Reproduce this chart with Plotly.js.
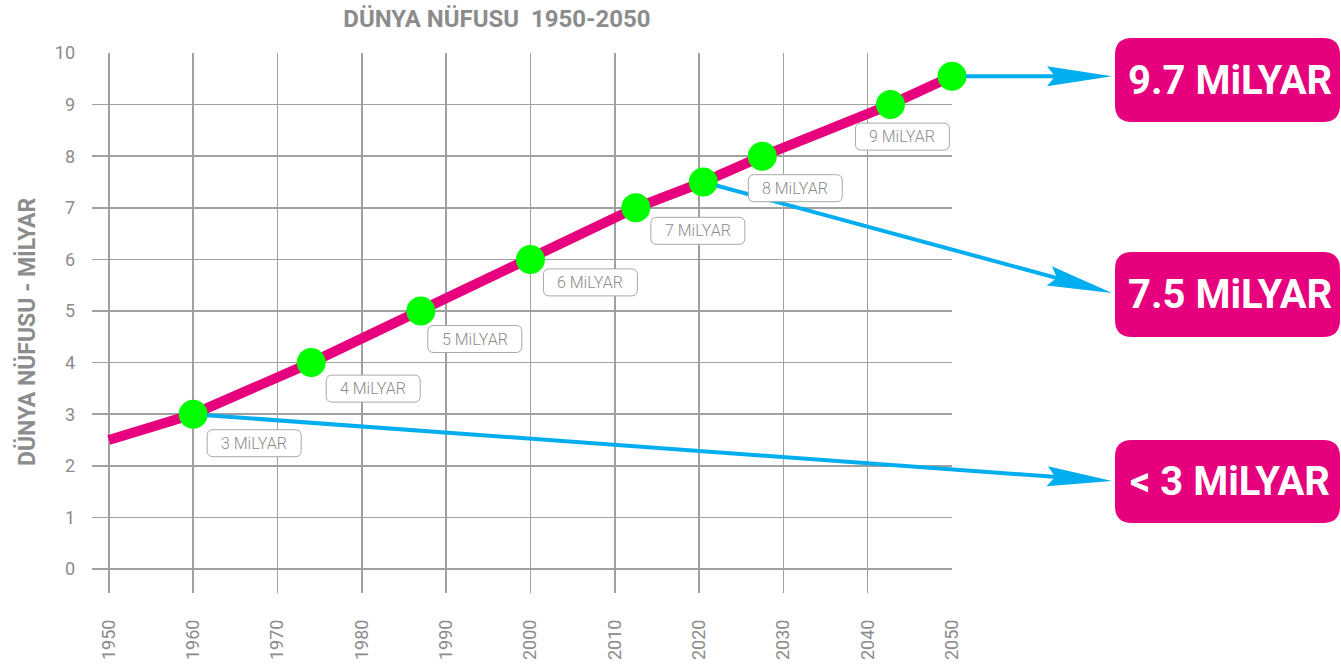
<!DOCTYPE html>
<html>
<head>
<meta charset="utf-8">
<script src="https://cdn.plot.ly/plotly-3.0.1.min.js"></script>
<style>
html,body{margin:0;padding:0;background:#fff;}
#chart{width:1341px;height:668px;}
</style>
</head>
<body>
<div id="chart"></div>
<script>
// ---- data ----
const years = [1950, 1960, 1974, 1987, 2000, 2012.5, 2020.5, 2027.5, 2042.7, 2050];
const population = [2.5, 3.0, 4.0, 5.0, 6.0, 7.0, 7.5, 8.0, 9.0, 9.55];

const milestoneYears = [1960, 1974, 1987, 2000, 2012.5, 2020.5, 2027.5, 2042.7, 2050];
const milestoneValues = [3.0, 4.0, 5.0, 6.0, 7.0, 7.5, 8.0, 9.0, 9.55];

const labelYears = [1960, 1974, 1987, 2000, 2012.5, 2027.5, 2042.7];
const labelValues = [3, 4, 5, 6, 7, 8, 9];
const labelTexts = ['3 MiLYAR', '4 MiLYAR', '5 MiLYAR', '6 MiLYAR', '7 MiLYAR', '8 MiLYAR', '9 MiLYAR'];

const calloutTexts = ['9.7 MiLYAR', '7.5 MiLYAR', '< 3 MiLYAR'];
const calloutFromYears = [2050, 2020.5, 1960];
const calloutFromValues = [9.55, 7.5, 3.0];

const xTickVals = [1950, 1960, 1970, 1980, 1990, 2000, 2010, 2020, 2030, 2040, 2050];
const yTickVals = [0, 1, 2, 3, 4, 5, 6, 7, 8, 9, 10];

// ---- layout constants (pixels) ----
const FIG_W = 1341, FIG_H = 668;
const M = {l: 92, r: 389, t: 53, b: 75};
const PW = FIG_W - M.l - M.r, PH = FIG_H - M.t - M.b;
const XR = [1948, 2050], YR = [-0.465, 10];
const labelOffsets = [[61, 29], [62, 26], [54, 28], [60, 23], [62, 23], [33, 32], [12, 32]];
const LABEL_W = 94, LABEL_H = 27;
const calloutBoxes = [[1115, 38, 1340, 122], [1115, 252, 1340, 337], [1115, 440, 1340, 523]];
const arrowTipX = 1112;
const arrowTipY = [null, 293, 481];
const MARKER_SIZE = 29;

const PINK = '#E6007E', BLUE = '#00AEEF', GREEN = '#00FF00', GRID = '#a0a0a0', TXT = '#8c8c8c';
const FONT = 'Roboto, "Open Sans", sans-serif';
const BOLD = 'Roboto, "Liberation Sans", sans-serif';

// ---- scale helpers (data -> pixel -> paper) ----
const px = x => M.l + (x - XR[0]) / (XR[1] - XR[0]) * PW;
const py = y => M.t + (YR[1] - y) / (YR[1] - YR[0]) * PH;
const toPX = p => (p - M.l) / PW;
const toPY = p => 1 - (p - M.t) / PH;
const P = (x, y) => toPX(x).toFixed(6) + ',' + toPY(y).toFixed(6);

function roundRect(x0, y0, x1, y1, r) {
  return 'M' + P(x0 + r, y0) + ' L' + P(x1 - r, y0) + ' Q' + P(x1, y0) + ' ' + P(x1, y0 + r) +
    ' L' + P(x1, y1 - r) + ' Q' + P(x1, y1) + ' ' + P(x1 - r, y1) +
    ' L' + P(x0 + r, y1) + ' Q' + P(x0, y1) + ' ' + P(x0, y1 - r) +
    ' L' + P(x0, y0 + r) + ' Q' + P(x0, y0) + ' ' + P(x0 + r, y0) + ' Z';
}

const shapes = [];
const annotations = [];

// blue arrows + pink callouts
calloutTexts.forEach((t, i) => {
  const sx = px(calloutFromYears[i]), sy = py(calloutFromValues[i]);
  const tx = arrowTipX, ty = arrowTipY[i] === null ? sy : arrowTipY[i];
  const dx = tx - sx, dy = ty - sy, len = Math.hypot(dx, dy);
  const ux = dx / len, uy = dy / len, nx = -uy, ny = ux;
  const r = MARKER_SIZE / 2 - 1;
  const HL = 65, HW = 10, NOTCH = 8;
  const ex = tx - ux * (HL - NOTCH - 2), ey = ty - uy * (HL - NOTCH - 2);
  shapes.push({
    type: 'path', xref: 'paper', yref: 'paper', layer: 'above',
    path: 'M' + P(sx + ux * r, sy + uy * r) + ' L' + P(ex, ey),
    line: {color: BLUE, width: 4}
  });
  const bx = tx - ux * HL, by = ty - uy * HL;
  const mx = tx - ux * (HL - NOTCH), my = ty - uy * (HL - NOTCH);
  shapes.push({
    type: 'path', xref: 'paper', yref: 'paper', layer: 'above',
    path: 'M' + P(tx, ty) + ' L' + P(bx + nx * HW, by + ny * HW) + ' L' + P(mx, my) +
          ' L' + P(bx - nx * HW, by - ny * HW) + ' Z',
    fillcolor: BLUE, line: {width: 0}
  });
  const b = calloutBoxes[i];
  shapes.push({
    type: 'path', xref: 'paper', yref: 'paper', layer: 'above',
    path: roundRect(b[0], b[1], b[2], b[3], 17),
    fillcolor: PINK, line: {width: 0}
  });
  annotations.push({
    xref: 'paper', yref: 'paper', x: toPX((b[0] + b[2]) / 2 + 2), y: toPY((b[1] + b[3]) / 2),
    xanchor: 'center', yanchor: 'middle', showarrow: false, text: t,
    font: {family: BOLD, size: 40, color: '#ffffff', weight: 700}
  });
});

// milestone label boxes
labelTexts.forEach((t, i) => {
  const cx = px(labelYears[i]) + labelOffsets[i][0];
  const cy = py(labelValues[i]) + labelOffsets[i][1];
  shapes.push({
    type: 'path', xref: 'paper', yref: 'paper', layer: 'above',
    path: roundRect(cx - LABEL_W / 2, cy - LABEL_H / 2, cx + LABEL_W / 2, cy + LABEL_H / 2, 6),
    fillcolor: '#ffffff', line: {color: '#a8a8a8', width: 1}
  });
  annotations.push({
    xref: 'x', yref: 'y', x: labelYears[i], y: labelValues[i],
    xshift: labelOffsets[i][0], yshift: -labelOffsets[i][1],
    xanchor: 'center', yanchor: 'middle', showarrow: false, text: t,
    font: {family: FONT, size: 16, color: TXT, weight: 300}
  });
});

// y-axis title
annotations.push({
  xref: 'paper', yref: 'paper', x: toPX(27), y: toPY(332),
  xanchor: 'center', yanchor: 'middle', showarrow: false, textangle: -90,
  text: 'DÜNYA NÜFUSU - MİLYAR',
  font: {family: BOLD, size: 23, color: TXT, weight: 700}
});

const traces = [
  {
    x: years, y: population, type: 'scatter', mode: 'lines',
    line: {color: PINK, width: 10}, hoverinfo: 'skip', showlegend: false
  },
  {
    x: milestoneYears, y: milestoneValues, type: 'scatter', mode: 'markers',
    marker: {color: GREEN, size: MARKER_SIZE}, cliponaxis: false,
    hoverinfo: 'skip', showlegend: false
  }
];

const layout = {
  width: FIG_W, height: FIG_H,
  margin: M,
  paper_bgcolor: '#ffffff', plot_bgcolor: '#ffffff',
  showlegend: false,
  title: {
    text: 'DÜNYA NÜFUSU  1950-2050',
    x: 497 / FIG_W, xanchor: 'center', y: 1 - 19 / FIG_H, yanchor: 'middle',
    font: {family: BOLD, size: 24, color: TXT, weight: 700}
  },
  xaxis: {
    range: XR, tickvals: xTickVals, ticktext: xTickVals.map(String),
    tickangle: -90, ticks: '', showgrid: true, gridcolor: GRID, gridwidth: 1.5,
    zeroline: false, showline: false, ticklabelstandoff: 22,
    tickfont: {family: FONT, size: 18, color: TXT}, fixedrange: true
  },
  yaxis: {
    range: YR, tickvals: yTickVals, ticktext: yTickVals.map(String),
    ticks: '', showgrid: true, gridcolor: GRID, gridwidth: 1.5,
    zeroline: false, showline: false, ticklabelstandoff: 16,
    tickfont: {family: FONT, size: 18, color: TXT}, fixedrange: true
  },
  shapes: shapes,
  annotations: annotations
};

Plotly.newPlot('chart', traces, layout, {displayModeBar: false, staticPlot: true});
</script>
</body>
</html>
